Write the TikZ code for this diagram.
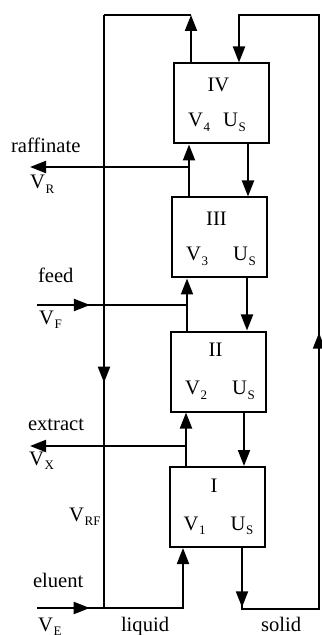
\documentclass[tikz,border=0pt]{standalone}
\usepackage{fontspec}
\setmainfont{Liberation Serif}
\usetikzlibrary{arrows.meta,positioning,calc,decorations.markings}

\newcommand{\lowsub}[2]{#1\kern0.4pt\raisebox{-2.3pt}{\fontsize{6.5}{7}\selectfont #2}}

\begin{document}
\begin{tikzpicture}[x=0.5pt,y=-0.5pt,>={Triangle[length=8pt,width=6pt]},line width=1pt,
  zone/.style={draw,rectangle,minimum width=47.5pt,minimum height=40pt,inner sep=0pt},
  lab/.style={font=\fontsize{10.3}{12}\selectfont,inner sep=0pt},
  midarrow/.style={postaction={decorate,decoration={markings,mark=at position #1 with {\arrow{>}}}}}]
\useasboundingbox (0,0) rectangle (321,635);

% the four zones
\node[zone] (IV) at (221.5,103.5) {};
\node[zone] (III) at (219.5,237.5) {};
\node[zone] (II) at (218.5,371.5) {};
\node[zone] (I) at (217,507) {};
\foreach \b/\k/\u/\t in {IV/4/49/29,III/3/61/29,II/2/61/26,I/1/61/26} {
  \node[lab,anchor=base] (\b-num) at ($(\b.north)+(-3,\t)$) {\b};
  \node[lab,anchor=base west] (\b-v) at ($(\b.north west)+(14,64)$) {\lowsub{V}{\k}};
  \node[lab,anchor=base west] (\b-u) at ($(\b.north west)+(\u,64)$) {\lowsub{U}{S}};
}

% corners and ports
\coordinate (liqtop) at (191,15);
\coordinate (liqtl) at (104,15);
\coordinate (liqbl) at (104,608);
\coordinate (liqbot) at (183,608);
\coordinate (eluent) at (37,608);
\coordinate (feed) at (37,305);
\coordinate (feedj) at (187,305);
\coordinate (raff) at (30,167);
\coordinate (raffj) at (189,167);
\coordinate (extr) at (30,446);
\coordinate (extrj) at (186,446);
\coordinate (soltop) at (239,15);
\coordinate (soltr) at (319,15);
\coordinate (solbr) at (319,609);
\coordinate (solbot) at (242,609);

% liquid
\draw[->] (IV.north -| liqtop) -- (liqtop);
\draw (liqtop) -- (liqtl);
\draw[midarrow=0.62] (liqtl) -- (liqbl);
\draw[->,midarrow=0.256] (eluent) -- (liqbot) -- (I.south -| liqbot);
\draw[->] (III.north -| raffj) -- (IV.south -| raffj);
\draw[->] (raffj) -- (raff);
\draw[midarrow=0.353] (feed) -- (feedj);
\draw[->] (II.north -| feedj) -- (III.south -| feedj);
\draw[->] (extrj) -- (extr);
\draw[->] (I.north -| extrj) -- (II.south -| extrj);

% solid
\draw[->] (IV.south -| 248,0) -- (III.north -| 248,0);
\draw[->] (III.south -| 247,0) -- (II.north -| 247,0);
\draw[->] (II.south -| 244,0) -- (I.north -| 244,0);
\draw[->,midarrow=0.069,midarrow=0.482] (I.south -| solbot) -- (solbot) -- (solbr)
  -- (soltr) -- (soltop) -- (IV.north -| soltop);

% streams
\node[lab,anchor=base west] (raffinate) at (10,153) {raffinate};
\node[lab,anchor=base west] (VR) at (29,189) {\lowsub{V}{R}};
\node[lab,anchor=base west] (feedtxt) at (37,283) {feed};
\node[lab,anchor=base west] (VF) at (38,324) {\lowsub{V}{F}};
\node[lab,anchor=base west] (extracttxt) at (27,430) {extract};
\node[lab,anchor=base west] (VX) at (28,465) {\lowsub{V}{X}};
\node[lab,anchor=base west] (VRF) at (68,521) {\lowsub{V}{RF}};
\node[lab,anchor=base west] (eluenttxt) at (32,587) {eluent};
\node[lab,anchor=base west] (VE) at (37,631) {\lowsub{V}{E}};
\node[lab,anchor=base west] (liquid) at (120,631) {liquid};
\node[lab,anchor=base west] (solid) at (260,631) {solid};
\end{tikzpicture}
\end{document}
